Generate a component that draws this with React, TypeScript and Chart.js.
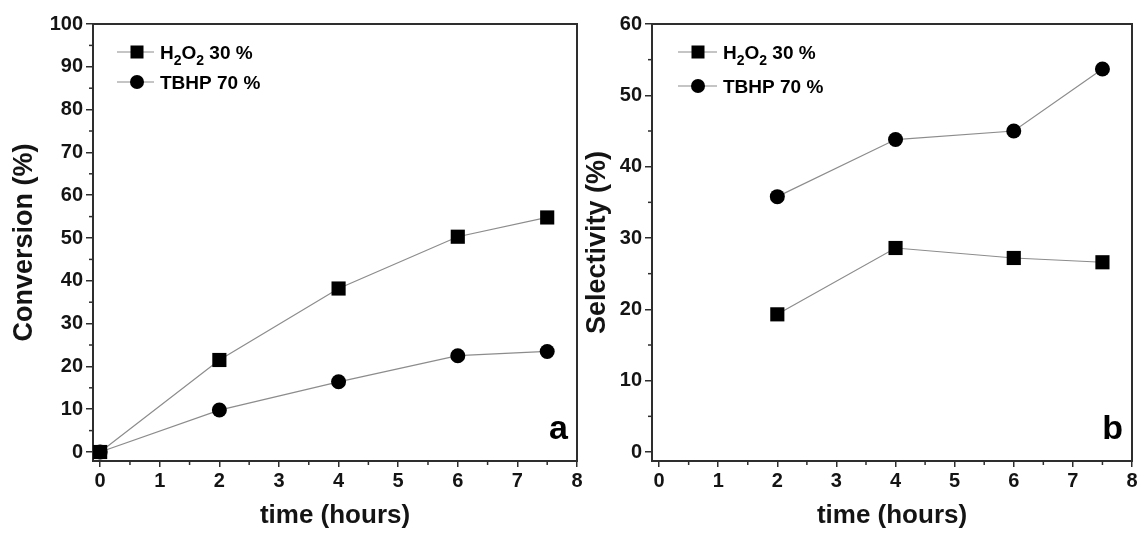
import React, { useEffect, useRef } from "react";
import { Chart, registerables } from "chart.js";

Chart.register(...registerables);

// ---------- data ----------
const timeConversion = [0, 2, 4, 6, 7.5];
const conversionH2O2 = [0, 21.5, 38.2, 50.3, 54.8];
const conversionTBHP = [0, 9.8, 16.4, 22.5, 23.5];

const timeSelectivity = [2, 4, 6, 7.5];
const selectivityH2O2 = [19.3, 28.6, 27.2, 26.6];
const selectivityTBHP = [35.8, 43.8, 45.0, 53.7];

const timeTicks = [0, 1, 2, 3, 4, 5, 6, 7, 8];
const conversionTicks = [0, 10, 20, 30, 40, 50, 60, 70, 80, 90, 100];
const selectivityTicks = [0, 10, 20, 30, 40, 50, 60];

const seriesLabels = ["H₂O₂ 30 %", "TBHP 70 %"];
const seriesStyles = ["rect", "circle"];

// ---------- styling ----------
const FONT = "'Liberation Sans', Arial, Helvetica, sans-serif";
const AXIS = "#2e2e2e";
const TEXT = "#141414";
const LINE = "#8c8c8c";

type Panel = {
  x: number[];
  s1: number[];
  s2: number[];
  yTicks: number[];
  yMin: number;
  yMax: number;
  yTitle: string;
  yTitlePad: number;
  yWidth: number;
  padRight: number;
  letter: string;
  legendLine: [number, number];
  legendMarker: number;
  legendText: number;
  legendRows: number[];
};

const framePlugin = {
  id: "frameAndExtras",
  afterDraw(chart: any, _args: any, opts: any) {
    const { ctx, chartArea } = chart;
    const { left, right, top, bottom } = chartArea;
    ctx.save();
    // top and right frame
    ctx.strokeStyle = AXIS;
    ctx.lineWidth = 2;
    ctx.beginPath();
    ctx.moveTo(left - 1, top);
    ctx.lineTo(right, top);
    ctx.lineTo(right, bottom + 1);
    ctx.stroke();

    // minor ticks
    ctx.lineWidth = 1.5;
    const xs = chart.scales.x;
    const ys = chart.scales.y;
    const xt = xs.ticks.map((t: any) => t.value);
    for (let i = 0; i < xt.length - 1; i++) {
      const px = xs.getPixelForValue((xt[i] + xt[i + 1]) / 2);
      ctx.beginPath();
      ctx.moveTo(px, bottom);
      ctx.lineTo(px, bottom + 4);
      ctx.stroke();
    }
    const yt = ys.ticks.map((t: any) => t.value);
    for (let i = 0; i < yt.length - 1; i++) {
      const py = ys.getPixelForValue((yt[i] + yt[i + 1]) / 2);
      ctx.beginPath();
      ctx.moveTo(left - 4, py);
      ctx.lineTo(left, py);
      ctx.stroke();
    }

    // panel letter
    ctx.fillStyle = "#000";
    ctx.font = `bold 34px ${FONT}`;
    ctx.textAlign = "right";
    ctx.textBaseline = "alphabetic";
    ctx.fillText(opts.letter, right - 9, bottom - 22);

    // legend
    chart.data.datasets.forEach((ds: any, i: number) => {
      const y = top + opts.legendRows[i];
      ctx.strokeStyle = LINE;
      ctx.lineWidth = 1.2;
      ctx.beginPath();
      ctx.moveTo(left + opts.legendLine[0], y);
      ctx.lineTo(left + opts.legendLine[1], y);
      ctx.stroke();
      const mx = left + opts.legendMarker;
      ctx.fillStyle = "#000";
      if (ds.pointStyle === "rect") {
        ctx.fillRect(mx - 6.5, y - 6.5, 13, 13);
      } else {
        ctx.beginPath();
        ctx.arc(mx, y, 7, 0, Math.PI * 2);
        ctx.fill();
      }
      // text with subscripts
      let tx = left + opts.legendText;
      ctx.textAlign = "left";
      ctx.textBaseline = "alphabetic";
      const base = y + 7;
      for (const ch of Array.from(ds.label as string)) {
        const code = ch.charCodeAt(0);
        if (code >= 0x2080 && code <= 0x2089) {
          const d = String.fromCharCode(48 + code - 0x2080);
          ctx.font = `bold 14px ${FONT}`;
          ctx.fillText(d, tx, base + 6);
          tx += ctx.measureText(d).width;
        } else {
          ctx.font = `bold 19px ${FONT}`;
          ctx.fillText(ch, tx, base);
          tx += ctx.measureText(ch).width;
        }
      }
    });
    ctx.restore();
  },
};

function makeConfig(p: Panel): any {
  const mk = (vals: number[], idx: number) => ({
    label: seriesLabels[idx],
    data: p.x.map((x, i) => ({ x, y: vals[i] })),
    pointStyle: seriesStyles[idx],
    pointRadius: idx === 0 ? 10 : 7.5,
    pointBackgroundColor: "#000",
    pointBorderColor: "#000",
    pointBorderWidth: 0,
    borderColor: LINE,
    borderWidth: 1.2,
    backgroundColor: "#000",
    fill: false,
    tension: 0,
  });
  return {
    type: "line",
    data: { datasets: [mk(p.s1, 0), mk(p.s2, 1)] },
    options: {
      responsive: false,
      animation: false,
      events: [],
      layout: { padding: { top: 24, right: p.padRight, bottom: 0, left: 0 } },
      plugins: {
        legend: { display: false },
        tooltip: { enabled: false },
        frameAndExtras: {
          letter: p.letter,
          legendLine: p.legendLine,
          legendMarker: p.legendMarker,
          legendText: p.legendText,
          legendRows: p.legendRows,
        },
      },
      scales: {
        x: {
          type: "linear",
          min: -0.12,
          max: 8,
          afterFit: (s: any) => {
            s.height = 73;
            s.paddingLeft = 0;
            s.paddingRight = 0;
          },
          afterBuildTicks: (s: any) => {
            s.ticks = timeTicks.map((v) => ({ value: v }));
          },
          grid: {
            drawOnChartArea: false,
            tickLength: 6,
            tickColor: AXIS,
            lineWidth: 1.5,
          },
          border: { color: AXIS, width: 2 },
          ticks: {
            color: TEXT,
            font: { family: FONT, size: 20, weight: "bold" },
            padding: 2,
            maxRotation: 0,
            autoSkip: false,
          },
          title: {
            display: true,
            text: "time (hours)",
            color: TEXT,
            font: { family: FONT, size: 26, weight: "bold" },
            padding: { top: 0, bottom: 3 },
          },
        },
        y: {
          type: "linear",
          min: p.yMin,
          max: p.yMax,
          afterFit: (s: any) => {
            s.width = p.yWidth;
            s.paddingTop = 0;
            s.paddingBottom = 0;
          },
          afterBuildTicks: (s: any) => {
            s.ticks = p.yTicks.map((v) => ({ value: v }));
          },
          grid: {
            drawOnChartArea: false,
            tickLength: 7,
            tickColor: AXIS,
            lineWidth: 1.5,
          },
          border: { color: AXIS, width: 2 },
          ticks: {
            color: TEXT,
            font: { family: FONT, size: 20, weight: "bold" },
            padding: 3,
            autoSkip: false,
          },
          title: {
            display: true,
            text: p.yTitle,
            color: TEXT,
            font: { family: FONT, size: 27, weight: "bold" },
            padding: { top: p.yTitlePad, bottom: 0 },
          },
        },
      },
    },
    plugins: [framePlugin],
  };
}

function ChartCanvas({ panel, width, left }: { panel: Panel; width: number; left: number }) {
  const ref = useRef<HTMLCanvasElement | null>(null);
  useEffect(() => {
    if (!ref.current) return;
    const chart = new Chart(ref.current, makeConfig(panel));
    return () => chart.destroy();
  }, []);
  return (
    <canvas
      ref={ref}
      width={width}
      height={534}
      style={{ position: "absolute", left, top: 0, width, height: 534 }}
    />
  );
}

const panelA: Panel = {
  x: timeConversion,
  s1: conversionH2O2,
  s2: conversionTBHP,
  yTicks: conversionTicks,
  yMin: -2.1,
  yMax: 100,
  yTitle: "Conversion (%)",
  yTitlePad: 8.5,
  yWidth: 93,
  padRight: 23,
  letter: "a",
  legendLine: [24, 61],
  legendMarker: 44,
  legendText: 67,
  legendRows: [28, 58],
};

const panelB: Panel = {
  x: timeSelectivity,
  s1: selectivityH2O2,
  s2: selectivityTBHP,
  yTicks: selectivityTicks,
  yMin: -1.26,
  yMax: 60,
  yTitle: "Selectivity (%)",
  yTitlePad: 1,
  yWidth: 72,
  padRight: 7,
  letter: "b",
  legendLine: [26, 65],
  legendMarker: 46,
  legendText: 71,
  legendRows: [28, 62],
};

export default function App() {
  return (
    <div
      style={{
        position: "absolute",
        left: 0,
        top: 0,
        width: 1142,
        height: 534,
        background: "#ffffff",
        overflow: "hidden",
      }}
    >
      <ChartCanvas panel={panelA} width={600} left={0} />
      <ChartCanvas panel={panelB} width={562} left={580} />
    </div>
  );
}
